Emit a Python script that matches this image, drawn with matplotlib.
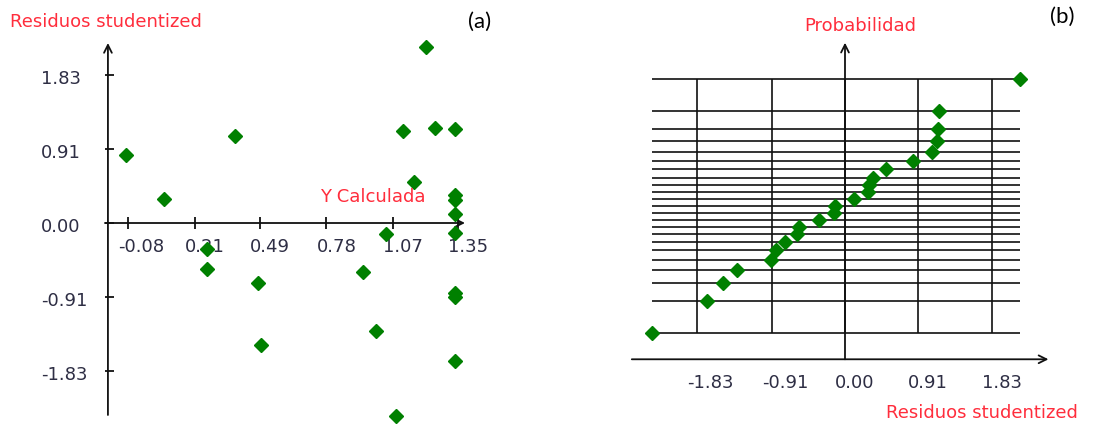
import matplotlib
matplotlib.use("Agg")
import matplotlib.pyplot as plt
import matplotlib.transforms as mtransforms
import numpy as np

# --------------------------------------------------------------------------- #
# Data
# --------------------------------------------------------------------------- #

# (a) residuals vs fitted value
y_calc = [-0.089, 0.077, 0.385, 0.264, 0.261, 0.482, 0.495, 0.939, 0.996,
          1.037, 1.081, 1.113, 1.161, 1.211, 1.251, 1.337, 1.337, 1.337,
          1.337, 1.337, 1.337, 1.337, 1.337]
residuals = [0.84, 0.30, 1.08, -0.32, -0.57, -0.74, -1.51, -0.60, -1.34,
             -0.14, -2.39, 1.14, 0.51, 2.17, 1.17, 1.16, 0.35, 0.28,
             0.11, -0.12, -0.86, -0.92, -1.71]
x_ticks_a = [-0.08, 0.21, 0.49, 0.78, 1.07, 1.35]
y_ticks_a = [1.83, 0.91, 0.00, -0.91, -1.83]

# (b) normal probability plot: normal scores of the probability lines
normal_scores = [-2.02, -1.51, -1.23, -1.03, -0.86, -0.71, -0.58, -0.45,
                 -0.33, -0.22, -0.11, 0.00, 0.11, 0.22, 0.33, 0.45, 0.58,
                 0.71, 0.86, 1.03, 1.23, 1.51, 2.02]
x_ticks_b = [-1.83, -0.91, 0.00, 0.91, 1.83]

GREEN = "#008000"
RED = "#ff2d3c"
TICK_COLOR = "#2e2e44"
LINE = "#111111"
FS = 13
W, H = 1107, 425

plt.rcParams["font.family"] = ["DejaVu Sans"]

fig = plt.figure(figsize=(W / 100, H / 100), dpi=100)


def px_rect(x0, y0, x1, y1):
    """Pixel box (top-left origin) -> figure fraction rect."""
    return [x0 / W, 1 - y1 / H, (x1 - x0) / W, (y1 - y0) / H]


def arrow(ax, start, end):
    ax.annotate("", xy=end, xytext=start,
                arrowprops=dict(arrowstyle="->", lw=1.3, color=LINE,
                                shrinkA=0, shrinkB=0, mutation_scale=14),
                annotation_clip=False)


def bare(ax):
    for s in ax.spines.values():
        s.set_color("none")
    ax.set_xticks([])
    ax.set_yticks([])
    ax.patch.set_alpha(0)


# --------------------------------------------------------------------------- #
# (a) Residuos studentized vs Y Calculada
# --------------------------------------------------------------------------- #
ax1 = fig.add_axes(px_rect(105, 40, 470, 420))
bare(ax1)
ax1.set_xlim(-0.1797, 1.4018)
ax1.set_ylim(-2.435, 2.262)
y_axis_x = -0.167

arrow(ax1, (-0.18, 0), (1.38, 0))
arrow(ax1, (y_axis_x, -2.373), (y_axis_x, 2.225))

# cross ticks
ax1.plot(x_ticks_a, [0] * len(x_ticks_a), linestyle="none", marker="|",
         markersize=8, markeredgewidth=1.3, color=LINE)
ax1.plot([y_axis_x] * len(y_ticks_a), y_ticks_a, linestyle="none",
         marker="_", markersize=8, markeredgewidth=1.3, color=LINE)

xlab_tr = mtransforms.offset_copy(ax1.transData, fig=fig, x=-10, y=-24,
                                  units="dots")
for t in x_ticks_a:
    ax1.text(t, 0, f"{t:.2f}", transform=xlab_tr, ha="left", va="center",
             fontsize=FS, color=TICK_COLOR)

ylab_tr = mtransforms.offset_copy(
    mtransforms.blended_transform_factory(fig.transFigure, ax1.transData),
    fig=fig, x=0, y=-4, units="dots")
for t in y_ticks_a:
    ax1.text(41 / W, t, f"{t:.2f}", transform=ylab_tr, ha="left",
             va="center", fontsize=FS, color=TICK_COLOR)

ax1.plot(y_calc, residuals, linestyle="none", marker="D", markersize=7,
         color=GREEN, zorder=5, clip_on=False)

# --------------------------------------------------------------------------- #
# (b) normal probability plot
# --------------------------------------------------------------------------- #
ax2 = fig.add_axes(px_rect(625, 38, 1055, 365))
bare(ax2)
ax2.set_xlim(-2.7295, 2.6055)
ax2.set_ylim(-2.535, 2.672)

res_sorted = np.sort(residuals)
ax2.hlines(normal_scores, res_sorted.min(), res_sorted.max(),
           color=LINE, lw=1.2)
ax2.vlines(x_ticks_b, min(normal_scores), max(normal_scores),
           color=LINE, lw=1.2)

x_axis_z = -2.444
arrow(ax2, (-2.645, x_axis_z), (2.524, x_axis_z))
arrow(ax2, (0, x_axis_z), (0, 2.597))

xlab_tr2 = mtransforms.offset_copy(ax2.transData, fig=fig, x=-10, y=-24,
                                   units="dots")
for t in x_ticks_b:
    ax2.text(t, x_axis_z, f"{t:.2f}", transform=xlab_tr2, ha="left",
             va="center", fontsize=FS, color=TICK_COLOR)

ax2.plot(res_sorted, normal_scores, linestyle="none", marker="D",
         markersize=7, color=GREEN, zorder=5, clip_on=False)

# --------------------------------------------------------------------------- #
# Titles / axis names
# --------------------------------------------------------------------------- #
fig.text(10 / W, 1 - 22 / H, "Residuos studentized", color=RED,
         fontsize=FS, ha="left", va="center")
fig.text(426 / W, 1 - 197 / H, "Y Calculada", color=RED, fontsize=FS,
         ha="right", va="center")
fig.text(860 / W, 1 - 26 / H, "Probabilidad", color=RED, fontsize=FS,
         ha="center", va="center")
fig.text(1078 / W, 1 - 413 / H, "Residuos studentized", color=RED,
         fontsize=FS, ha="right", va="center")
fig.text(480 / W, 1 - 22 / H, "(a)", fontsize=16, family=["Lato"],
         ha="center", va="center")
fig.text(1062 / W, 1 - 17 / H, "(b)", fontsize=16, family=["Lato"],
         ha="center", va="center")

fig.savefig("out.png", dpi=100)
